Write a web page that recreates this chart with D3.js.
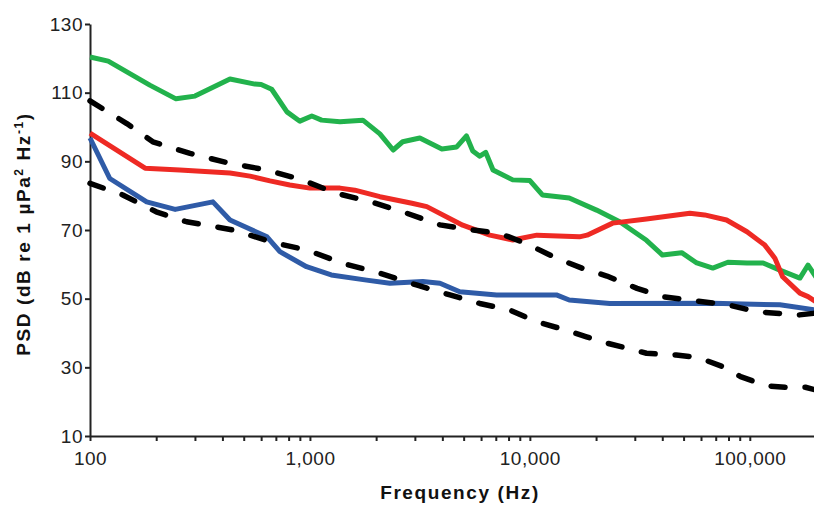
<!DOCTYPE html>
<html>
<head>
  <title>PSD chart</title>
  <script src="https://d3js.org/d3.v7.min.js"></script>
  <style>
    body { margin: 0; background: #fff; }
    .axis text { font-family: "Liberation Sans", Arial, sans-serif; font-size: 19px; fill: #222; letter-spacing: 0.5px; }
    .axis path, .axis line { stroke: #222; stroke-width: 2px; }
    .title { font-family: "Liberation Sans", Arial, sans-serif; font-size: 19px; font-weight: bold; fill: #111; letter-spacing: 1.6px; }
    .series { fill: none; stroke-linejoin: round; }
  </style>
</head>
<body>
  <script>
    // values: [frequency Hz, PSD dB]
    var greenLine = [[100,120.4],[121,119.2],[187,112.2],[246,108.2],[300,109],[433,114],[562,112.5],[600,112.4],
        [670,111],[786,104.4],[900,101.7],[1020,103.2],[1130,102],[1370,101.5],[1740,102],[2080,98],[2390,93.3],
        [2640,95.7],[3160,96.8],[3980,93.6],[4650,94.2],[5150,97.4],[5500,93],[5920,91.5],[6300,92.6],[6800,87.5],
        [8360,84.6],[10000,84.4],[11400,80.2],[15100,79.3],[20100,75.8],[25600,72.4],[33900,67],[40100,62.7],
        [49000,63.4],[57400,60.4],[67900,58.9],[79500,60.6],[97100,60.4],[115000,60.4],[137000,58.3],[169000,56],
        [184000,59.8],[200000,56.3]];
    var redLine = [[100,98.2],[178,88],[256,87.5],[433,86.6],[534,85.7],[658,84.3],[810,83.1],[1000,82.2],
        [1370,82.2],[1600,81.6],[2080,79.7],[2910,77.8],[3400,76.8],[4950,71.4],[6580,68.5],[8360,67.1],
        [10760,68.5],[16800,68],[18200,68.5],[23800,72],[33900,73.2],[53400,74.9],[62300,74.4],[78400,72.9],
        [97100,69.5],[117000,65.6],[130000,61.8],[141000,56.4],[169000,51.6],[184000,50.6],[200000,49.1]];
    var blueLine = [[100,96.8],[123,85],[181,78.2],[244,76],[362,78.2],[433,72.9],[638,68],[730,63.7],
        [965,59.3],[1250,56.9],[1810,55.4],[2310,54.5],[3260,55],[3900,54.5],[4800,52],[7060,51.1],[13200,51.1],
        [15100,49.6],[23100,48.6],[67900,48.7],[137000,48.2],[200000,46.7]];
    var upperDashed = [[100,107.6],[147,101],[193,95.7],[285,92.3],[433,89.4],[635,87.5],[900,84.8],[1320,80.7],
        [1940,78],[2750,74.9],[3900,71.5],[5500,70],[7300,69],[9600,66.1],[13200,61.8],[17400,58.8],[22400,56.6],
        [30700,53],[40100,50.6],[53400,49.6],[81000,48.1],[107000,46.2],[137000,45.7],[164000,45.2],[200000,45.8]];
    var lowerDashed = [[100,83.6],[141,80.2],[200,75.3],[275,72.4],[447,70],[706,66.1],[965,64.2],[1410,60.3],
        [2080,57.4],[3050,54],[4330,51.1],[5920,48.6],[8110,46.7],[10700,43.3],[13600,41.4],[18100,38.9],
        [22600,37],[33900,34.1],[46300,33.6],[58000,32.9],[75400,30.2],[90800,27.3],[119000,24.6],[145000,24.2],
        [179000,24.2],[200000,23.4]];

    var yTicks = [10, 30, 50, 70, 90, 110, 130];
    var xMajor = [100, 1000, 10000, 100000];

    var width = 814, height = 505;
    var svg = d3.select("body").append("svg")
        .attr("width", width)
        .attr("height", height);

    var x = d3.scaleLog().domain([100, 200000]).range([90, 816]);
    var y = d3.scaleLinear().domain([10, 130]).range([436, 24]);

    // minor ticks 100..900 in every decade
    var xTicks = [];
    xMajor.forEach(function(m) {
        for (var k = 1; k < 10; k++) {
            if (m * k < 200000) xTicks.push(m * k);
        }
    });

    var fmt = d3.format(",");
    svg.append("g")
        .attr("class", "axis")
        .attr("transform", "translate(0," + y(10) + ")")
        .call(d3.axisBottom(x).tickValues(xTicks).tickSize(5).tickSizeOuter(0).tickPadding(11)
            .tickFormat(function(d) { return xMajor.indexOf(d) >= 0 ? fmt(d) : ""; }));

    svg.append("g")
        .attr("class", "axis")
        .attr("transform", "translate(" + x(100) + ",0)")
        .call(d3.axisLeft(y).tickValues(yTicks).tickSize(5).tickSizeOuter(0).tickPadding(2));

    var line = d3.line()
        .x(function(d) { return x(d[0]); })
        .y(function(d) { return y(d[1]); });

    var g = svg.append("g");
    g.append("path").datum(greenLine).attr("class", "series")
        .attr("stroke", "#22b24c").attr("stroke-width", 5).attr("d", line);
    g.append("path").datum(redLine).attr("class", "series")
        .attr("stroke", "#ee2a24").attr("stroke-width", 5).attr("d", line);
    g.append("path").datum(blueLine).attr("class", "series")
        .attr("stroke", "#2f5ba7").attr("stroke-width", 5).attr("d", line);
    [upperDashed, lowerDashed].forEach(function(s) {
        g.append("path").datum(s).attr("class", "series")
            .attr("stroke", "#000").attr("stroke-width", 5.5)
            .attr("stroke-linecap", "round")
            .attr("stroke-dasharray", "14,20")
            .attr("d", line);
    });

    // axis titles
    svg.append("text")
        .attr("class", "title")
        .attr("x", 460).attr("y", 499)
        .attr("text-anchor", "middle")
        .text("Frequency (Hz)");

    var yt = svg.append("text")
        .attr("class", "title")
        .attr("transform", "translate(30,234) rotate(-90)")
        .attr("text-anchor", "middle");
    yt.append("tspan").text("PSD (dB re 1 \u00b5Pa");
    yt.append("tspan").attr("font-size", "12px").attr("dy", -7).text("2");
    yt.append("tspan").attr("dy", 7).text(" Hz");
    yt.append("tspan").attr("font-size", "12px").attr("dy", -7).text("-1");
    yt.append("tspan").attr("dy", 7).text(")");
  </script>
</body>
</html>
